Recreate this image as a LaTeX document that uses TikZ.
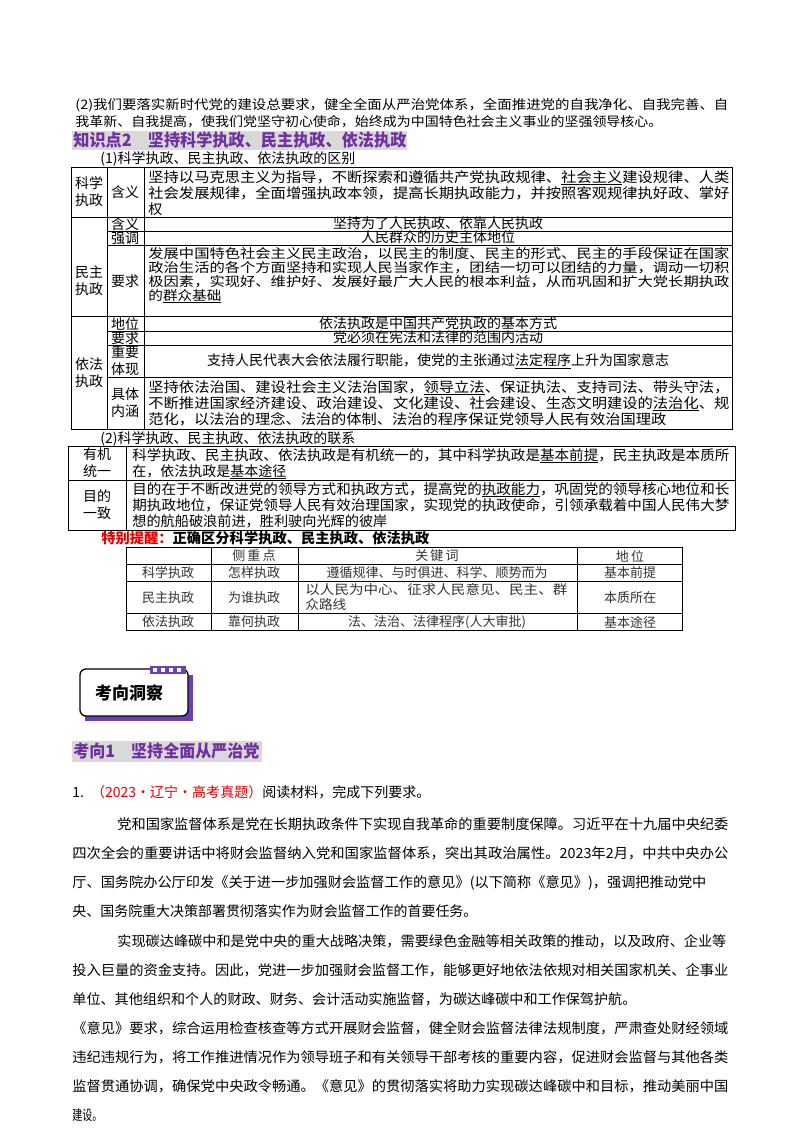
\documentclass[tikz,border=0pt]{standalone}
\usepackage{fontspec}
\usepackage{graphicx}
\setmainfont{Noto Sans CJK SC}
\definecolor{purp}{HTML}{7030A0}
\definecolor{hl}{HTML}{D9D9D9}
\definecolor{redt}{HTML}{E00000}
\definecolor{gtx}{HTML}{333333}
\newcommand\jl[4]{\node[anchor=base west,inner sep=0pt] at (#1,#2) {\resizebox{#3pt}{\height}{#4}};}
\newcommand\fsz[1]{\fontsize{#1}{#1}\selectfont}
\begin{document}
\begin{tikzpicture}[x=1pt,y=-1pt,line width=0.8pt,
  cell/.style={inner sep=0pt,align=center,font=\fontsize{14}{17}\selectfont},
  tcell/.style={inner sep=0pt,align=center,text=gtx,font=\fontsize{13}{15}\selectfont}]
\useasboundingbox (0,0) rectangle (800,1132);
\fill[white] (0,0) rectangle (800,1132);
% top paragraph
\begin{scope}[font=\fsz{13}]
\jl{75}{110}{653}{(2)我们要落实新时代党的建设总要求，健全全面从严治党体系，全面推进党的自我净化、自我完善、自}
\jl{75}{126}{587}{我革新、自我提高，使我们党坚守初心使命，始终成为中国特色社会主义事业的坚强领导核心。}
\end{scope}
% heading
\fill[hl] (72,131) rectangle (407,150);
\begin{scope}[font=\fsz{17}\bfseries,text=purp]
\jl{73}{146}{333}{知识点2　坚持科学执政、民主执政、依法执政}
\end{scope}
\begin{scope}[font=\fsz{14}]
\jl{100}{163}{255}{(1)科学执政、民主执政、依法执政的区别}
\end{scope}
% table 1
\draw (71,167) rectangle (732,429);
\draw (71,217) -- (732,217) (71,316) -- (732,316);
\draw (107,167) -- (107,429) (144,167) -- (144,429);
\foreach \yy in {231,245,331,345,377} \draw (107,\yy) -- (732,\yy);
\node[cell] (a1) at (89,192) {科学\\执政};
\node[cell] (a2) at (89,281) {民主\\执政};
\node[cell] (a3) at (89,373) {依法\\执政};
\node[cell] (b1) at (125,192) {含义};
\node[cell] (b2) at (125,224) {含义};
\node[cell] (b3) at (125,238) {强调};
\node[cell] (b4) at (125,281) {要求};
\node[cell] (b5) at (125,324) {地位};
\node[cell] (b6) at (125,338) {要求};
\node[cell] (b7) at (125,361) {重要\\体现};
\node[cell] (b8) at (125,403) {具体\\内涵};
\node[cell] (c2) at (438,224) {坚持为了\underline{人民执政}、依靠人民执政};
\node[cell] (c3) at (438,238) {人民群众的\underline{历史主体}地位};
\node[cell] (c5) at (438,324) {依法执政是中国共产党执政的\underline{基本方式}};
\node[cell] (c6) at (438,338) {党必须在宪法和\underline{法律}的范围内活动};
\node[cell] (c7) at (438,361) {支持人民代表大会依法履行职能，使党的主张通过\underline{法定程序}上升为国家意志};
\begin{scope}[font=\fsz{14}]
\jl{148}{182}{581}{坚持以马克思主义为指导，不断探索和遵循共产党执政规律、\underline{社会主义}建设规律、人类}
\jl{148}{198}{581}{社会发展规律，全面增强执政本领，提高长期执政能力，并按照客观规律执好政、掌好}
\jl{148}{214}{14}{权}
\jl{148}{392}{581}{坚持依法治国、建设社会主义法治国家，\underline{领导立法}、保证执法、支持司法、带头守法，}
\jl{148}{408}{581}{不断推进国家经济建设、政治建设、文化建设、社会建设、生态文明建设的\underline{法治化}、规}
\jl{148}{424}{518}{范化，以法治的理念、法治的体制、法治的程序保证党领导人民有效治国理政}
\end{scope}
\begin{scope}[font=\fsz{13}]
\jl{148}{258}{581}{发展中国特色社会主义民主政治，以民主的制度、民主的形式、民主的手段保证在国家}
\jl{148}{272}{581}{政治生活的各个方面坚持和实现人民当家作主，团结一切可以团结的力量，调动一切积}
\jl{148}{286}{581}{极因素，实现好、维护好、发展好最广大人民的根本利益，从而巩固和扩大党长期执政}
\jl{148}{300}{73}{的\underline{群众基础}}
\end{scope}
% (2)
\begin{scope}[font=\fsz{14}]
\jl{100}{443}{255}{(2)科学执政、民主执政、依法执政的联系}
\end{scope}
\draw (68,446) rectangle (735,530);
\draw (68,480) -- (735,480) (126,446) -- (126,530);
\node[cell] (d1) at (97,463) {有机\\统一};
\node[cell] (d2) at (97,505) {目的\\一致};
\begin{scope}[font=\fsz{14}]
\jl{132}{460}{597}{科学执政、民主执政、依法执政是有机统一的，其中科学执政是\underline{基本前提}，民主执政是本质所}
\jl{132}{476}{154}{在，依法执政是\underline{基本途径}}
\jl{132}{494}{597}{目的在于不断改进党的领导方式和执政方式，提高党的\underline{执政能力}，巩固党的领导核心地位和长}
\jl{132}{510}{597}{期执政地位，保证党领导人民有效治理国家，实现党的执政使命，引领承载着中国人民伟大梦}
\jl{132}{526}{255}{想的航船破浪前进，胜利驶向光辉的彼岸}
\end{scope}
\begin{scope}[font=\fsz{14}\bfseries]
\jl{101}{543}{328}{\textcolor{redt}{特别提醒：}正确区分科学执政、民主执政、依法执政}
\end{scope}
% table 3
\draw[line width=0.6pt] (126,547) rectangle (682,630);
\foreach \yy in {564,581,613} \draw[line width=0.6pt] (126,\yy) -- (682,\yy);
\foreach \xx in {211,298,577} \draw[line width=0.6pt] (\xx,547) -- (\xx,630);
\node[tcell] (h1) at (254,556) {侧\,重\,点};
\node[tcell] (h2) at (437,556) {关\,键\,词};
\node[tcell] (h3) at (630,556) {地\,位};
\node[tcell] (r1) at (168,573) {科学执政};
\node[tcell] (r2) at (254,573) {怎样执政};
\node[tcell] (r3) at (437,573) {遵循规律、与时俱进、科学、顺势而为};
\node[tcell] (r4) at (630,573) {基本前提};
\node[tcell] (s1) at (168,598) {民主执政};
\node[tcell] (s2) at (254,598) {为谁执政};
\node[tcell] (s4) at (630,598) {本质所在};
\node[tcell] (t1) at (168,622) {依法执政};
\node[tcell] (t2) at (254,622) {靠何执政};
\node[tcell] (t3) at (437,622) {法、法治、法律程序(人大审批)};
\node[tcell] (t4) at (630,622) {基本途径};
\begin{scope}[font=\fsz{13},text=gtx]
\jl{305}{594}{262}{以人民为中心、征求人民意见、民主、群}
\jl{305}{609}{41}{众路线}
\end{scope}
% badge
\fill[purp!85!blue!90] (85,675) rectangle (193,721);
\draw[line width=1.3pt,rounded corners=6pt,fill=white] (80,669) rectangle (188,716);
\fill[purp!85!blue!90] (150,666) rectangle (186,674);
\foreach \xx in {153,161,169,177} \fill[white] (\xx,668) rectangle (\xx+4,672);
\node[inner sep=0pt,font=\fsz{17}\bfseries] (bd) at (129,693) {考向洞察};
% 考向1
\fill[hl] (72,741) rectangle (262,762);
\begin{scope}[font=\fsz{17}\bfseries,text=purp]
\jl{73}{757}{186}{考向1　坚持全面从严治党}
\end{scope}
\begin{scope}[font=\fsz{14}]
\jl{72}{797}{358}{1.\enspace\textcolor{redt}{（2023·辽宁·高考真题）}阅读材料，完成下列要求。}
\jl{117}{829}{611}{党和国家监督体系是党在长期执政条件下实现自我革命的重要制度保障。习近平在十九届中央纪委}
\jl{72}{858}{656}{四次全会的重要讲话中将财会监督纳入党和国家监督体系，突出其政治属性。2023年2月，中共中央办公}
\jl{72}{887}{634}{厅、国务院办公厅印发《关于进一步加强财会监督工作的意见》(以下简称《意见》)，强调把推动党中}
\jl{72}{916}{405}{央、国务院重大决策部署贯彻落实作为财会监督工作的首要任务。}
\jl{117}{946}{609}{实现碳达峰碳中和是党中央的重大战略决策，需要绿色金融等相关政策的推动，以及政府、企业等}
\jl{72}{975}{656}{投入巨量的资金支持。因此，党进一步加强财会监督工作，能够更好地依法依规对相关国家机关、企事业}
\jl{72}{1004}{564}{单位、其他组织和个人的财政、财务、会计活动实施监督，为碳达峰碳中和工作保驾护航。}
\jl{72}{1033}{656}{《意见》要求，综合运用检查核查等方式开展财会监督，健全财会监督法律法规制度，严肃查处财经领域}
\jl{72}{1062}{656}{违纪违规行为，将工作推进情况作为领导班子和有关领导干部考核的重要内容，促进财会监督与其他各类}
\jl{72}{1091}{656}{监督贯通协调，确保党中央政令畅通。《意见》的贯彻落实将助力实现碳达峰碳中和目标，推动美丽中国}
\jl{72}{1120}{30}{建设。}
\end{scope}
\end{tikzpicture}
\end{document}
